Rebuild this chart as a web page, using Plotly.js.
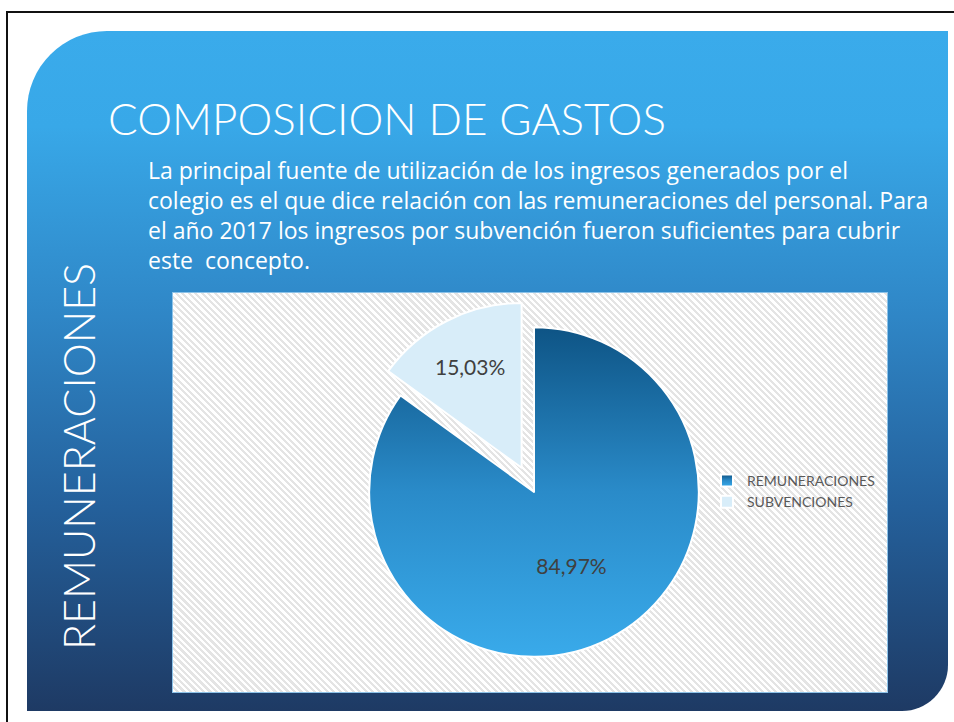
<!DOCTYPE html>
<html>
<head>
<meta charset="utf-8">
<script src="https://cdn.plot.ly/plotly-3.0.1.min.js"></script>
<style>
  html, body { margin: 0; padding: 0; background: #ffffff; }
  #page { position: relative; width: 954px; height: 722px; overflow: hidden; background: #ffffff; }
  .bd { position: absolute; background: #111; }
  #panel { position: absolute; left: 27px; top: 31px; width: 921px; height: 680px;
    border-radius: 80px 0 46px 0;
    background: linear-gradient(to bottom, #3aabeb 0%, #38a8e8 14%, #2f86c6 42%, #24609b 70%, #1e3a64 100%); }
  #area { position: absolute; left: 172px; top: 292px; width: 714px; height: 399px;
    border: 1px solid #8cc2e8;
    background: repeating-linear-gradient(45deg, #ffffff 0px, #ffffff 2.4px, #e4e4e4 2.4px, #e4e4e4 4.6px); }
  #plot { position: absolute; left: 0; top: 0; width: 954px; height: 722px; }
</style>
</head>
<body>
<div id="page">
  <div class="bd" style="left:6px;top:11px;width:948px;height:2px"></div>
  <div class="bd" style="left:6px;top:11px;width:2px;height:711px"></div>
  <div id="panel"></div>
  <div id="area"></div>
  <div id="plot"></div>
</div>
<script>
const categories = ["REMUNERACIONES", "SUBVENCIONES"];
const values = [84.97, 15.03];
const sliceColors = ["#2279b8", "#d8edf9"];
const pulls = [0, 0.165];
const titleText = "COMPOSICION DE GASTOS";
const bodyText = "La principal fuente de utilización de los ingresos generados por el<br>colegio es el que dice relación con las remuneraciones del personal. Para<br>el año 2017 los ingresos por subvención fueron suficientes para cubrir<br>este  concepto.";
const sideText = "REMUNERACIONES";

const W = 954, H = 722;
const cx = 534, cy = 492, half = 192;

const trace = {
  type: "pie",
  labels: categories,
  values: values,
  sort: false,
  direction: "clockwise",
  rotation: 0,
  pull: pulls,
  marker: { colors: sliceColors, line: { color: "#ffffff", width: 2 } },
  texttemplate: "%{percent:.2%}",
  textposition: "inside",
  insidetextorientation: "horizontal",
  insidetextfont: { family: "Lato", size: 21, color: "#404040" },
  hoverinfo: "none",
  domain: { x: [(cx - half) / W, (cx + half) / W], y: [(H - cy - half) / H, (H - cy + half) / H] }
};

const layout = {
  width: W, height: H,
  margin: { l: 0, r: 0, t: 0, b: 0 },
  paper_bgcolor: "rgba(0,0,0,0)",
  plot_bgcolor: "rgba(0,0,0,0)",
  separators: ",.",
  showlegend: true,
  legend: {
    x: 707 / W, y: 1 - 465 / H, xanchor: "left", yanchor: "top",
    bgcolor: "rgba(0,0,0,0)",
    font: { family: "Lato", size: 14, color: "#595959" },
    itemwidth: 30, tracegroupgap: 0
  },
  title: {
    text: titleText,
    font: { family: "Lato", size: 44, color: "#ffffff", weight: 300 },
    x: 108 / W, xanchor: "left", xref: "paper",
    y: 1 - 120 / H, yanchor: "middle", yref: "paper"
  },
  annotations: [
    {
      text: bodyText, showarrow: false, xref: "paper", yref: "paper",
      x: 146 / W, y: 1 - 152 / H, xanchor: "left", yanchor: "top", align: "left",
      font: { family: "Open Sans", size: 23, color: "#ffffff" }
    },
    {
      text: sideText, showarrow: false, xref: "paper", yref: "paper", textangle: -90,
      x: 79 / W, y: 1 - 457 / H, xanchor: "center", yanchor: "middle",
      font: { family: "Lato", size: 43, color: "#ffffff", weight: 300 }
    }
  ]
};

Plotly.newPlot("plot", [trace], layout, { displayModeBar: false, staticPlot: true }).then(function (gd) {
  const svg = gd.querySelector("svg.main-svg");
  const ns = "http://www.w3.org/2000/svg";
  let defs = svg.querySelector("defs");
  if (!defs) { defs = document.createElementNS(ns, "defs"); svg.insertBefore(defs, svg.firstChild); }
  const lg = document.createElementNS(ns, "linearGradient");
  lg.setAttribute("id", "remGrad");
  lg.setAttribute("x1", "0"); lg.setAttribute("y1", "0"); lg.setAttribute("x2", "0"); lg.setAttribute("y2", "1");
  [["0", "#0e5485"], ["0.5", "#2a8bc9"], ["1", "#39aaea"]].forEach(function (s) {
    const st = document.createElementNS(ns, "stop");
    st.setAttribute("offset", s[0]); st.setAttribute("stop-color", s[1]);
    lg.appendChild(st);
  });
  defs.appendChild(lg);
  const slices = gd.querySelectorAll("g.slice path.surface");
  if (slices.length) slices[0].style.fill = "url(#remGrad)";
  const lp = gd.querySelectorAll(".legendpoints path");
  if (lp.length) lp[0].style.fill = "url(#remGrad)";
});
</script>
</body>
</html>
